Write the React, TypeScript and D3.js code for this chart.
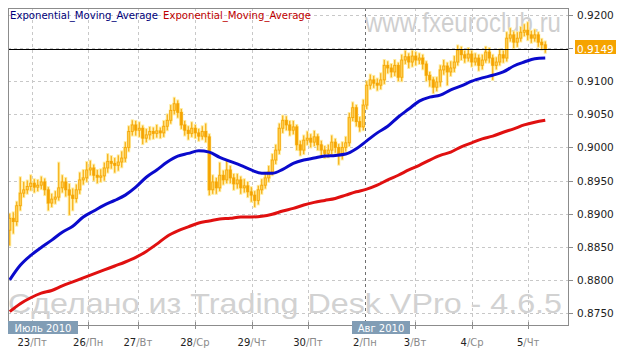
import React from "react";
import * as d3 from "d3";

// Hourly-ish EUR/CHF candles (close / high / low); open = previous close
const firstOpen = 0.8875;
const closes = [
  0.8893, 0.8888, 0.8912, 0.8931, 0.8936, 0.8941, 0.8946, 0.8940, 0.8943, 0.8948,
  0.8936, 0.8916, 0.8922, 0.8925, 0.8939, 0.8948, 0.8936, 0.8928, 0.8923, 0.8936,
  0.8951, 0.8954, 0.8966, 0.8969, 0.8958, 0.8955, 0.8957, 0.8969, 0.8979, 0.8976,
  0.8973, 0.8978, 0.8984, 0.9000, 0.9024, 0.9034, 0.9026, 0.9029, 0.9014, 0.9019,
  0.9024, 0.9021, 0.9025, 0.9022, 0.9032, 0.9041, 0.9056, 0.9066, 0.9053, 0.9034,
  0.9026, 0.9021, 0.9029, 0.9022, 0.9017, 0.9024, 0.9016, 0.8936, 0.8948, 0.8939,
  0.8958, 0.8951, 0.8966, 0.8954, 0.8945, 0.8951, 0.8939, 0.8942, 0.8933, 0.8928,
  0.8920, 0.8936, 0.8943, 0.8954, 0.8963, 0.8981, 0.8996, 0.9029, 0.9041, 0.9034,
  0.9026, 0.9031, 0.9004, 0.8996, 0.9011, 0.9014, 0.9008, 0.9016, 0.9004, 0.8996,
  0.8991, 0.8996, 0.9008, 0.9000, 0.8988, 0.9000, 0.9007, 0.9045, 0.9060, 0.9039,
  0.9031, 0.9064, 0.9094, 0.9102, 0.9097, 0.9094, 0.9102, 0.9124, 0.9120, 0.9114,
  0.9124, 0.9106, 0.9132, 0.9137, 0.9129, 0.9138, 0.9132, 0.9135, 0.9126, 0.9109,
  0.9102, 0.9091, 0.9099, 0.9117, 0.9123, 0.9114, 0.9120, 0.9129, 0.9147, 0.9140,
  0.9135, 0.9141, 0.9129, 0.9135, 0.9124, 0.9132, 0.9144, 0.9135, 0.9124, 0.9129,
  0.9140, 0.9135, 0.9165, 0.9170, 0.9159, 0.9165, 0.9174, 0.9177, 0.9170, 0.9165,
  0.9170, 0.9159, 0.9155, 0.9149,
];
const highs = [
  0.8900, 0.8902, 0.8918, 0.8955, 0.8948, 0.8950, 0.8958, 0.8952, 0.8951, 0.8956,
  0.8953, 0.8940, 0.8930, 0.8934, 0.8977, 0.8958, 0.8954, 0.8945, 0.8938, 0.8944,
  0.8962, 0.8966, 0.8978, 0.8980, 0.8974, 0.8966, 0.8967, 0.8977, 0.8990, 0.8987,
  0.8984, 0.8988, 0.8994, 0.9008, 0.9032, 0.9041, 0.9040, 0.9038, 0.9033, 0.9028,
  0.9031, 0.9030, 0.9034, 0.9030, 0.9040, 0.9050, 0.9064, 0.9075, 0.9071, 0.9058,
  0.9040, 0.9032, 0.9038, 0.9034, 0.9028, 0.9032, 0.9036, 0.9020, 0.8958, 0.8954,
  0.8977, 0.8965, 0.8981, 0.8972, 0.8960, 0.8960, 0.8956, 0.8952, 0.8948, 0.8940,
  0.8934, 0.8942, 0.8952, 0.8962, 0.8972, 0.8990, 0.9004, 0.9036, 0.9048, 0.9047,
  0.9040, 0.9040, 0.9034, 0.9010, 0.9018, 0.9024, 0.9020, 0.9025, 0.9020, 0.9010,
  0.9002, 0.9004, 0.9018, 0.9013, 0.9005, 0.9008, 0.9016, 0.9052, 0.9068, 0.9064,
  0.9046, 0.9072, 0.9100, 0.9110, 0.9108, 0.9104, 0.9112, 0.9132, 0.9130, 0.9126,
  0.9132, 0.9128, 0.9140, 0.9146, 0.9142, 0.9146, 0.9144, 0.9142, 0.9140, 0.9130,
  0.9114, 0.9106, 0.9106, 0.9124, 0.9132, 0.9128, 0.9130, 0.9138, 0.9154, 0.9152,
  0.9146, 0.9150, 0.9146, 0.9142, 0.9140, 0.9140, 0.9152, 0.9150, 0.9140, 0.9136,
  0.9148, 0.9146, 0.9174, 0.9180, 0.9175, 0.9174, 0.9182, 0.9186, 0.9189, 0.9176,
  0.9178, 0.9174, 0.9164, 0.9160,
];
const lows = [
  0.8852, 0.8870, 0.8882, 0.8905, 0.8925, 0.8930, 0.8935, 0.8932, 0.8934, 0.8937,
  0.8928, 0.8905, 0.8910, 0.8915, 0.8920, 0.8932, 0.8926, 0.8898, 0.8905, 0.8917,
  0.8930, 0.8944, 0.8948, 0.8958, 0.8950, 0.8946, 0.8948, 0.8950, 0.8962, 0.8968,
  0.8962, 0.8965, 0.8970, 0.8978, 0.8994, 0.9018, 0.9018, 0.9016, 0.9005, 0.9008,
  0.9012, 0.9013, 0.9015, 0.9014, 0.9016, 0.9026, 0.9036, 0.9050, 0.9045, 0.9028,
  0.9018, 0.9012, 0.9016, 0.9014, 0.9010, 0.9012, 0.9008, 0.8928, 0.8930, 0.8930,
  0.8934, 0.8944, 0.8946, 0.8946, 0.8936, 0.8938, 0.8930, 0.8932, 0.8925, 0.8918,
  0.8910, 0.8914, 0.8930, 0.8938, 0.8948, 0.8958, 0.8975, 0.8990, 0.9022, 0.9026,
  0.9018, 0.9020, 0.8996, 0.8988, 0.8990, 0.9004, 0.9000, 0.9002, 0.8996, 0.8986,
  0.8984, 0.8985, 0.8990, 0.8992, 0.8974, 0.8982, 0.8994, 0.9002, 0.9040, 0.9032,
  0.9024, 0.9026, 0.9058, 0.9088, 0.9090, 0.9086, 0.9088, 0.9096, 0.9112, 0.9106,
  0.9108, 0.9100, 0.9100, 0.9126, 0.9120, 0.9122, 0.9124, 0.9126, 0.9118, 0.9100,
  0.9092, 0.9082, 0.9085, 0.9092, 0.9110, 0.9094, 0.9108, 0.9114, 0.9124, 0.9132,
  0.9128, 0.9130, 0.9122, 0.9124, 0.9116, 0.9118, 0.9128, 0.9128, 0.9102, 0.9118,
  0.9124, 0.9128, 0.9130, 0.9160, 0.9150, 0.9152, 0.9160, 0.9168, 0.9162, 0.9158,
  0.9160, 0.9152, 0.9148, 0.9143,
];

// EMA values sampled every 3rd candle
const emaStep = 3;
const emaBlue = [
  0.8800, 0.8822, 0.8837, 0.8849, 0.8860, 0.8872, 0.8881, 0.8895, 0.8904, 0.8913,
  0.8920, 0.8928, 0.8940, 0.8955, 0.8966, 0.8978, 0.8987, 0.8991, 0.8995, 0.8993,
  0.8985, 0.8979, 0.8973, 0.8966, 0.8961, 0.8961, 0.8967, 0.8976, 0.8981, 0.8984,
  0.8987, 0.8988, 0.8990, 0.8998, 0.9010, 0.9022, 0.9032, 0.9046, 0.9058, 0.9070,
  0.9076, 0.9079, 0.9087, 0.9093, 0.9100, 0.9105, 0.9109, 0.9114, 0.9123, 0.9129,
  0.9134, 0.9135,
];
const emaRed = [
  0.8752, 0.8764, 0.8773, 0.8780, 0.8784, 0.8791, 0.8797, 0.8803, 0.8809, 0.8815,
  0.8821, 0.8827, 0.8834, 0.8843, 0.8854, 0.8866, 0.8874, 0.8880, 0.8886, 0.8889,
  0.8892, 0.8893, 0.8895, 0.8895, 0.8896, 0.8899, 0.8904, 0.8908, 0.8913, 0.8917,
  0.8920, 0.8923, 0.8928, 0.8933, 0.8937, 0.8943, 0.8951, 0.8958, 0.8966, 0.8973,
  0.8981, 0.8988, 0.8993, 0.9001, 0.9007, 0.9013, 0.9017, 0.9023, 0.9028, 0.9034,
  0.9038, 0.9041,
];

const dayTickPos = [6.9, 22.9, 37.1, 53.4, 69.7, 85.7, 102, 116.3, 132.6, 148.6];
const dayNums = ["23", "26", "27", "28", "29", "30", "2", "3", "4", "5"];
const dayNames = ["Пт", "Пн", "Вт", "Ср", "Чт", "Пт", "Пн", "Вт", "Ср", "Чт"];
const monthLabels = ["Июль 2010", "Авг 2010"];
const monthTickPos = [0, 102];
const yTicks = [0.875, 0.88, 0.885, 0.89, 0.895, 0.9, 0.905, 0.91, 0.915, 0.92];
const legendNames = ["Exponential_Moving_Average", "Exponential_Moving_Average"];
const watermarkTop = "www.fxeuroclub.ru";
const watermarkBottom = "Сделано из Trading Desk VPro - 4.6.5";

const W = 622;
const H = 356;
const L = 8, R = 568, T = 8, B = 325;
const ORANGE = "#F5A300";
const GLOW = "#FFEB9A";
const FONT = "'DejaVu Sans', Verdana, sans-serif";

export default function App() {
  const x = d3.scaleLinear().domain([0, 160]).range([L, R]);
  const y = d3.scaleLinear().domain([0.875, 0.92]).range([313, 15]);
  const fmt = d3.format(".4f");
  const cw = (x(1) - x(0)) * 0.6;

  const candles = closes.map((c, i) => {
    const o = i === 0 ? firstOpen : closes[i - 1];
    return { i, o, c, h: highs[i], l: lows[i] };
  });

  const emaLine = d3
    .line<number>()
    .x((_, k) => x(k * emaStep + 0.5))
    .y((d) => y(d))
    .curve(d3.curveMonotoneX);

  const last = closes[closes.length - 1];
  const monthWidths = [70, 58];
  const monthOffsets = [0, -13];

  return (
    <svg
      width={W}
      height={H}
      style={{ position: "absolute", left: 0, top: 0, background: "#fff" }}
      fontFamily={FONT}
    >
      <defs>
        <clipPath id="plot">
          <rect x={L} y={T} width={R - L} height={B - T} />
        </clipPath>
      </defs>
      <rect x={0} y={0} width={W} height={H} fill="#fff" />

      {/* grid */}
      {yTicks.map((v) => (
        <line key={"h" + v} x1={L} x2={R} y1={Math.round(y(v)) + 0.5} y2={Math.round(y(v)) + 0.5}
          stroke="#c8c8c8" strokeDasharray="3,3" />
      ))}
      {dayTickPos.map((p, k) => (
        <line key={"v" + k} x1={Math.round(x(p)) + 0.5} x2={Math.round(x(p)) + 0.5} y1={T} y2={B + 4}
          stroke={p === monthTickPos[1] ? "#707070" : "#c8c8c8"} strokeDasharray="3,3" />
      ))}

      {/* watermarks */}
      <text transform="translate(365,32) scale(0.857,1)" fontFamily="'Liberation Sans', Arial, sans-serif" fontSize={28}
        fill="#cfcfcf">{watermarkTop}</text>
      <text x={8} y={313} fontFamily="'Liberation Sans', Arial, sans-serif" fontSize={28}
        fill="#d2d2d2" textLength={554} lengthAdjust="spacingAndGlyphs">{watermarkBottom}</text>

      {/* candles */}
      <g clipPath="url(#plot)">
        {candles.map((d) => {
          const cx = x(d.i + 0.5);
          const top = y(Math.max(d.o, d.c));
          const bot = y(Math.min(d.o, d.c));
          return (
            <g key={"g" + d.i}>
              <line x1={cx} x2={cx} y1={y(d.h) - 1} y2={y(d.l) + 1} stroke={GLOW} strokeWidth={3} />
              <rect x={cx - cw / 2 - 1} y={top - 1} width={cw + 2} height={Math.max(bot - top, 1) + 2} fill={GLOW} />
            </g>
          );
        })}
        {candles.map((d) => {
          const cx = x(d.i + 0.5);
          const top = y(Math.max(d.o, d.c));
          const bot = y(Math.min(d.o, d.c));
          const up = d.c >= d.o;
          return (
            <g key={"c" + d.i}>
              <line x1={cx} x2={cx} y1={y(d.h)} y2={y(d.l)} stroke={ORANGE} strokeWidth={1} />
              <rect x={cx - cw / 2} y={top} width={cw} height={Math.max(bot - top, 1)}
                fill={up ? "#FFD25A" : ORANGE} stroke={ORANGE} strokeWidth={0.8} />
            </g>
          );
        })}
        <path d={emaLine(emaRed) || ""} fill="none" stroke="#E01010" strokeWidth={3} />
        <path d={emaLine(emaBlue) || ""} fill="none" stroke="#0A0ACC" strokeWidth={3} />
        <line x1={L} x2={R} y1={Math.round(y(last)) + 0.5} y2={Math.round(y(last)) + 0.5} stroke="#000" strokeWidth={1} />
      </g>

      {/* legend */}
      <text x={10} y={19} fontSize={10} fill="#00007A" textLength={148} lengthAdjust="spacingAndGlyphs">{legendNames[0]}</text>
      <text x={163} y={19} fontSize={10} fill="#C00000" textLength={148} lengthAdjust="spacingAndGlyphs">{legendNames[1]}</text>

      {/* frame */}
      <rect x={L + 0.5} y={T + 0.5} width={R - L} height={B - T} fill="none" stroke="#8c8c8c" strokeWidth={1} />

      {/* right axis */}
      {yTicks.map((v) => (
        <g key={"yt" + v}>
          <line x1={R} x2={R + 5} y1={Math.round(y(v)) + 0.5} y2={Math.round(y(v)) + 0.5} stroke="#8c8c8c" />
          <text x={577} y={y(v) + 4} fontSize={10.5} fill="#222">{fmt(v)}</text>
        </g>
      ))}
      <rect x={575} y={40} width={41} height={14} fill={ORANGE} />
      <text x={577} y={y(last) + 4} fontSize={10.5} fill="#fff">{fmt(last)}</text>

      {/* bottom axis */}
      {dayTickPos.map((p, k) => (
        <g key={"xt" + k}>
          <line x1={Math.round(x(p)) + 0.5} x2={Math.round(x(p)) + 0.5} y1={B - 3} y2={B + 4} stroke="#8c8c8c" />
          <text x={x(p)} y={346} fontSize={10} textAnchor="middle">
            <tspan fill="#222">{dayNums[k]}</tspan>
            <tspan fill="#8a8a8a">/{dayNames[k]}</tspan>
          </text>
        </g>
      ))}
      {monthLabels.map((m, k) => {
        const left = k === 0 ? L : x(monthTickPos[k]) + monthOffsets[k];
        return (
          <g key={"m" + k}>
            <rect x={left} y={321} width={monthWidths[k]} height={13} fill="#819DB5" />
            <text x={left + monthWidths[k] / 2} y={331.5} fontSize={10} fill="#fff" textAnchor="middle">{m}</text>
          </g>
        );
      })}
    </svg>
  );
}
